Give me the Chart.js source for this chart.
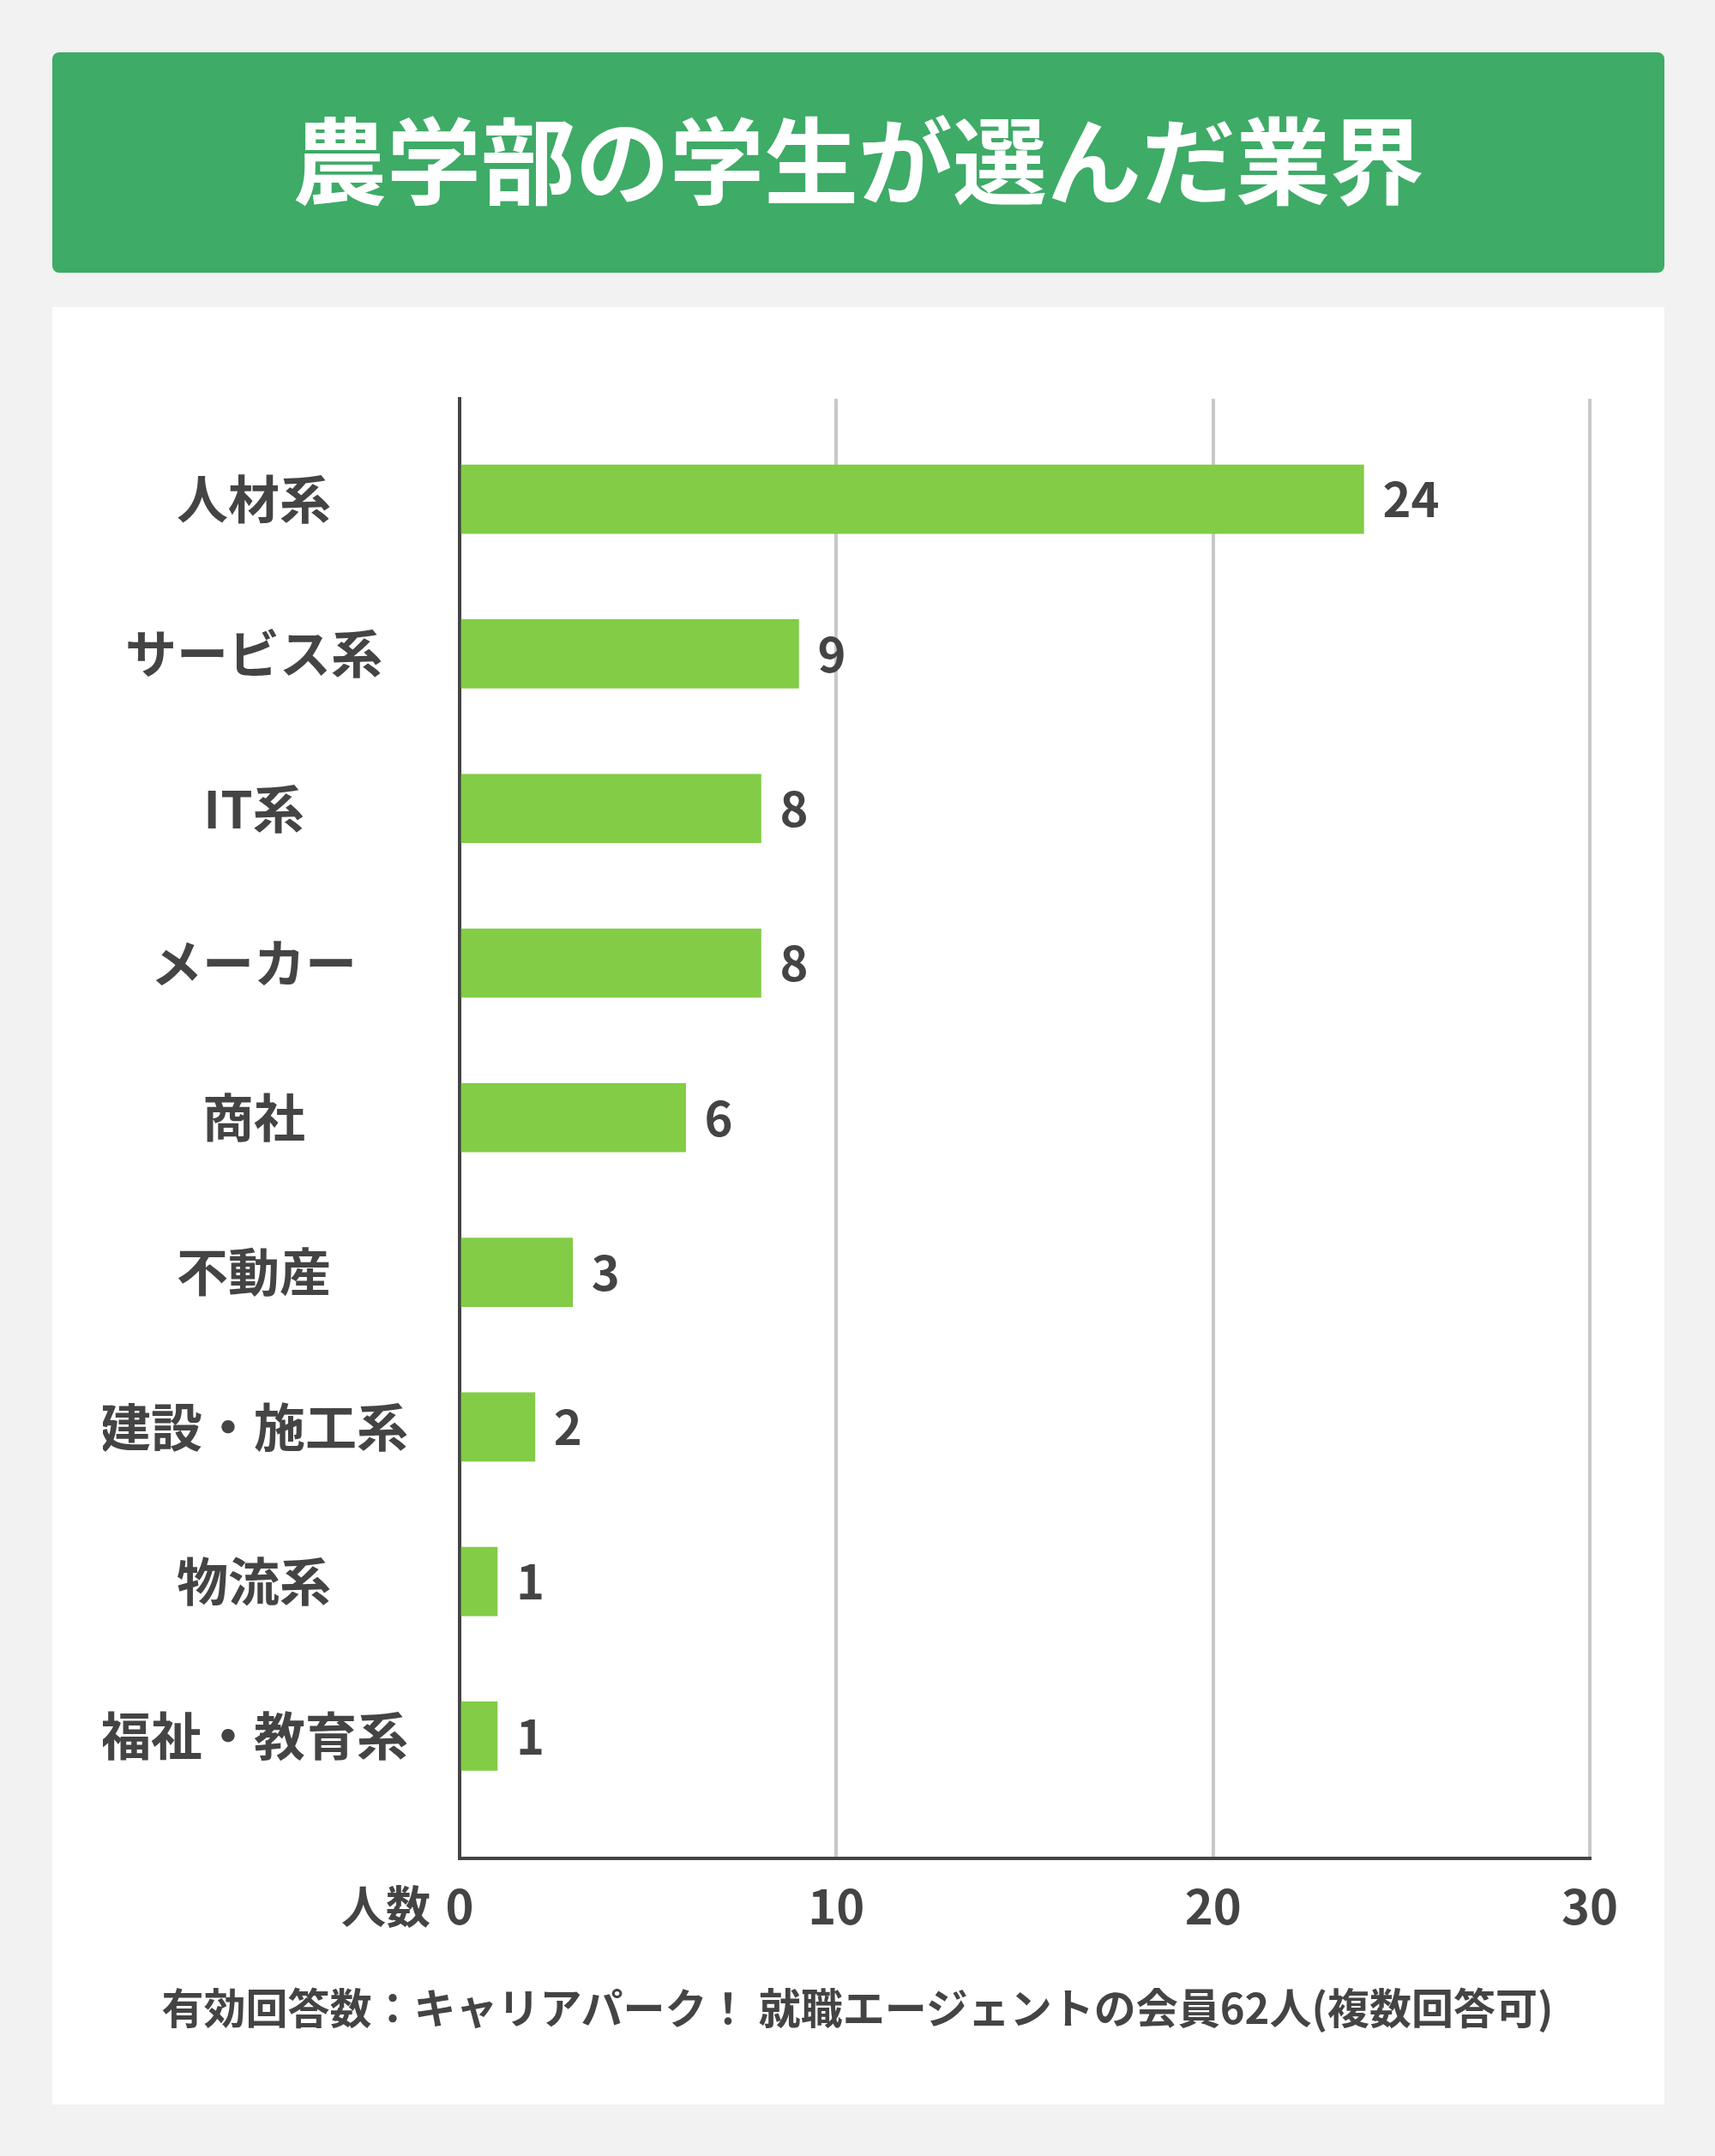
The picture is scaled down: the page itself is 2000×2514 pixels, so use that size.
<!DOCTYPE html>
<html lang="ja">
<head>
<meta charset="utf-8">
<title>農学部の学生が選んだ業界</title>
<script src="https://cdn.jsdelivr.net/npm/chart.js@4.4.1/dist/chart.umd.min.js"></script>
<style>
    html, body { margin: 0; padding: 0; background: #f2f2f2; }
    body { width: 2000px; height: 2514px; position: relative; overflow: hidden; font-family: "Noto Sans CJK JP", sans-serif; color: #444; }
    .banner { position: absolute; left: 61px; top: 61px; width: 1880px; height: 257px; background: #3eab67; border-radius: 8px; display: flex; align-items: center; justify-content: center; }
    .banner h1 { margin: 0 0 16px 0; color: #fff; font-size: 110px; font-weight: 700; line-height: 1; }
    .panel { position: absolute; left: 61px; top: 358px; width: 1880px; height: 2096px; background: #fff; }
    #myBarChart { position: absolute; left: 0; top: 0; }
    .unit { position: absolute; left: 0; width: 502px; top: 2190px; text-align: right; font-size: 52px; font-weight: 700; line-height: 62px; }
    .note { position: absolute; left: 0; width: 2000px; top: 2309px; text-align: center; font-size: 49px; font-weight: 700; line-height: 60px; }
</style>
</head>
<body>
<div class="banner"><h1>農学部の学生が選んだ業界</h1></div>
<div class="panel"></div>
<canvas id="myBarChart" width="2000" height="2514"></canvas>
<div class="unit">人数</div>
<div class="note">有効回答数：キャリアパーク！ 就職エージェントの会員62人(複数回答可)</div>

<script>
// Datos
const categories = ['人材系', 'サービス系', 'IT系', 'メーカー', '商社', '不動産', '建設・施工系', '物流系', '福祉・教育系'];
const counts = [24, 9, 8, 8, 6, 3, 2, 1, 1];
const xTicks = [0, 10, 20, 30];

const textColor = '#444';
const fontFamily = '"Noto Sans CJK JP", sans-serif';

// Etiquetas de valor al final de cada barra
const valueLabels = {
    id: 'valueLabels',
    afterDatasetsDraw(chart) {
        const ctx = chart.ctx;
        const meta = chart.getDatasetMeta(0);
        ctx.save();
        ctx.font = 'bold 56px ' + fontFamily;
        ctx.fillStyle = textColor;
        ctx.textAlign = 'left';
        ctx.textBaseline = 'middle';
        meta.data.forEach((bar, i) => {
            ctx.fillText(String(counts[i]), bar.x + 22, bar.y);
        });
        ctx.restore();
    }
};

const ctx = document.getElementById('myBarChart').getContext('2d');

const myBarChart = new Chart(ctx, {
    type: 'bar',
    data: {
        datasets: [{
            label: '人数',
            data: counts.map((v, i) => ({ x: v, y: i })),
            backgroundColor: '#82cc46',
            borderWidth: 0,
            barThickness: 80
        }]
    },
    options: {
        indexAxis: 'y',
        responsive: false,
        devicePixelRatio: 1,
        animation: false,
        layout: {
            padding: { top: 465, left: 120, right: 146, bottom: 236 }
        },
        plugins: {
            legend: { display: false },
            tooltip: { enabled: false }
        },
        scales: {
            x: {
                type: 'linear',
                min: 0,
                max: 30,
                afterBuildTicks: (scale) => {
                    scale.ticks = xTicks.map(v => ({ value: v }));
                },
                grid: { color: '#c8c8c8', lineWidth: 4, drawTicks: false },
                border: { display: true, color: textColor, width: 4 },
                ticks: {
                    color: textColor,
                    padding: 22,
                    font: { family: fontFamily, size: 56, weight: 'bold' }
                }
            },
            y: {
                type: 'linear',
                reverse: true,
                offset: false,
                min: -0.65,
                max: 8.79,
                z: 1,
                afterBuildTicks: (scale) => {
                    scale.ticks = categories.map((c, i) => ({ value: i }));
                },
                afterFit: (scale) => {
                    scale.width = 416;
                },
                grid: { display: false, drawTicks: false, offset: false },
                border: { display: true, color: textColor, width: 4 },
                ticks: {
                    color: textColor,
                    padding: 60,
                    crossAlign: 'center',
                    font: { family: fontFamily, size: 60, weight: 'bold' },
                    callback: (value) => categories[value]
                }
            }
        }
    },
    plugins: [valueLabels]
});
</script>
</body>
</html>
